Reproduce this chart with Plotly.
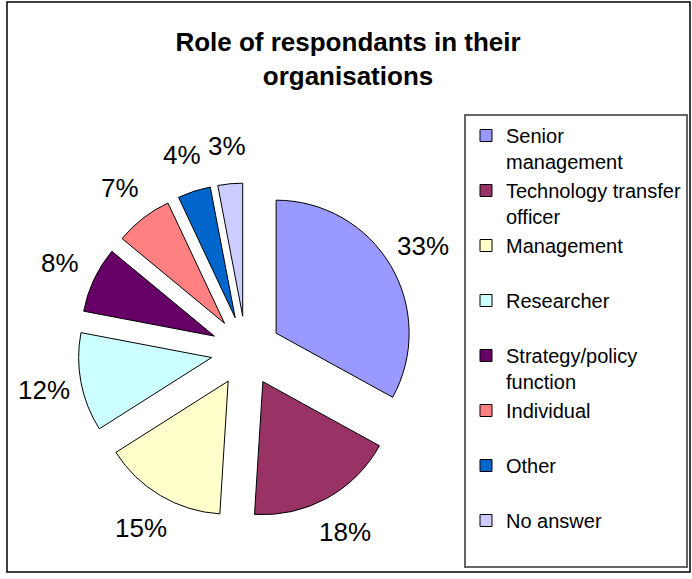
import math
import plotly.graph_objects as go

categories = ["Senior management", "Technology transfer officer", "Management",
              "Researcher", "Strategy/policy function", "Individual", "Other", "No answer"]
values = [33, 18, 15, 12, 8, 7, 4, 3]
colors = ["#9999FF", "#993366", "#FFFFCC", "#CCFFFF", "#660066", "#FF8080", "#0066CC", "#CCCCFF"]

# legend display labels (wrapped like the original, each entry occupies two lines)
wrap = {
    "Senior management": "Senior<br>management",
    "Technology transfer officer": "Technology transfer<br>officer",
    "Strategy/policy function": "Strategy/policy<br>function",
}
display = [wrap.get(c, c + "<br>\u00a0") for c in categories]

W, H = 692, 579
cx, cy, box = 246, 351, 336      # pie centre and box (px)
pull = 0.263
label_r = 206                    # distance of the percentage labels from the centre (px)
FONT = "Liberation Sans, Arial"

fig = go.Figure(go.Pie(
    labels=display,
    values=values,
    sort=False,
    direction="clockwise",
    rotation=0,
    pull=[pull] * len(values),
    marker=dict(colors=colors, line=dict(color="black", width=1)),
    textinfo="none",
    hoverinfo="label+percent",
    domain=dict(x=[(cx - box / 2) / W, (cx + box / 2) / W],
                y=[1 - (cy + box / 2) / H, 1 - (cy - box / 2) / H]),
))

# percentage labels placed around the pie at each slice's mid angle
total = sum(values)
annotations = []
cum = 0
for v in values:
    mid = (cum + v / 2) / total * 2 * math.pi
    cum += v
    px = cx + label_r * math.sin(mid)
    py = cy - label_r * math.cos(mid)
    annotations.append(dict(
        text=f"{round(100 * v / total)}%", x=px / W, y=1 - py / H,
        xref="paper", yref="paper", xanchor="center", yanchor="middle",
        showarrow=False, font=dict(size=26, color="black", family=FONT)))

fig.update_layout(
    width=W, height=H,
    margin=dict(l=0, r=0, t=0, b=0, autoexpand=False),
    paper_bgcolor="white",
    font=dict(family=FONT, color="black"),
    title=dict(text="<b>Role of respondants in their<br>organisations</b>",
               x=348 / W, xanchor="center", y=1 - 51 / H, yanchor="top",
               font=dict(size=26, color="black", family=FONT)),
    showlegend=True,
    legend=dict(x=688 / W, xanchor="right", y=1 - 114 / H, yanchor="top",
                bgcolor="white", bordercolor="#666666", borderwidth=2,
                font=dict(size=20, color="black", family=FONT),
                valign="top", traceorder="normal"),
    annotations=annotations,
    shapes=[dict(type="rect", xref="paper", yref="paper",
                 x0=7 / W, x1=690 / W, y0=1 - 572 / H, y1=1 - 2 / H,
                 line=dict(color="black", width=1.5), layer="below")],
)

fig.write_html("out.html")
